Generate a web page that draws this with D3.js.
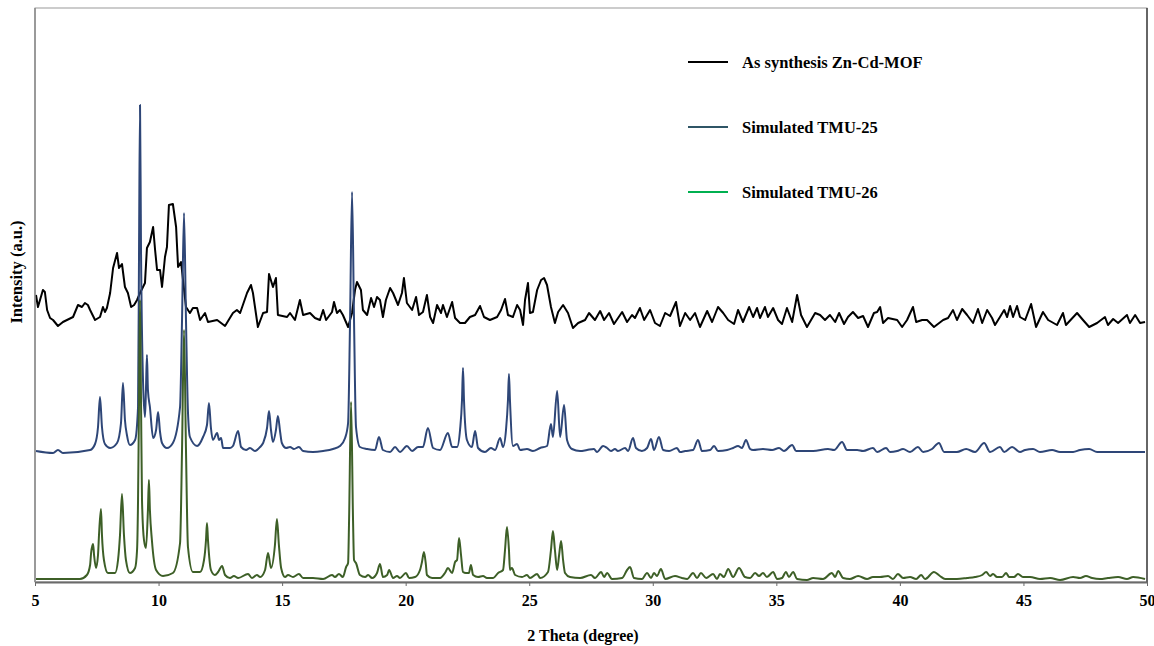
<!DOCTYPE html>
<html><head><meta charset="utf-8">
<script src="https://cdn.jsdelivr.net/npm/d3@7"></script>
<style>body{margin:0;background:#fff}svg{display:block}</style>
</head><body><svg id="c" width="1154" height="646"></svg>
<script>
const xTicks=[5,10,15,20,25,30,35,40,45,50];
const seriesNames=["As synthesis Zn-Cd-MOF","Simulated TMU-25","Simulated TMU-26"];
// [2θ, intensity a.u.]
const asSynthesis=[[5.04,287],[5.12,275],[5.32,292],[5.40,290],[5.49,272],[5.61,264],[5.73,262],[5.93,256],[6.13,260],[6.54,265],[6.74,277],[6.90,275],[7.02,279],[7.14,277],[7.23,272],[7.43,262],[7.63,265],[7.75,275],[7.83,270],[7.91,274],[8.04,289],[8.16,314],[8.32,329],[8.40,314],[8.52,318],[8.64,295],[8.76,289],[8.89,275],[9.01,277],[9.13,282],[9.25,289],[9.45,299],[9.53,334],[9.65,340],[9.78,355],[9.86,332],[9.94,312],[10.06,312],[10.14,295],[10.26,325],[10.34,335],[10.42,377],[10.58,378],[10.71,355],[10.79,315],[10.91,320],[10.99,302],[11.11,275],[11.27,269],[11.39,274],[11.56,274],[11.68,262],[11.88,269],[12.00,260],[12.37,262],[12.69,256],[13.01,269],[13.17,272],[13.30,269],[13.58,289],[13.74,297],[13.82,289],[14.02,255],[14.23,269],[14.39,270],[14.47,308],[14.63,295],[14.75,304],[14.83,267],[15.20,265],[15.32,269],[15.52,262],[15.72,282],[15.85,267],[16.13,269],[16.33,264],[16.53,262],[16.66,272],[16.78,262],[17.02,270],[17.10,280],[17.22,269],[17.34,272],[17.46,267],[17.67,255],[17.83,269],[17.95,292],[18.03,300],[18.19,292],[18.27,272],[18.44,267],[18.60,284],[18.72,275],[18.84,285],[18.96,282],[19.08,265],[19.20,282],[19.37,294],[19.49,289],[19.69,277],[19.85,289],[19.93,304],[20.05,279],[20.26,272],[20.42,285],[20.54,267],[20.70,270],[20.86,287],[20.99,265],[21.11,259],[21.27,277],[21.43,269],[21.51,277],[21.67,265],[21.88,280],[22.00,264],[22.20,259],[22.40,259],[22.60,265],[22.81,267],[23.01,276],[23.17,265],[23.41,262],[23.70,265],[23.86,272],[24.02,283],[24.14,267],[24.34,265],[24.51,277],[24.63,272],[24.75,257],[24.83,282],[24.95,299],[25.03,269],[25.15,270],[25.32,292],[25.48,302],[25.60,304],[25.72,297],[25.88,275],[26.04,259],[26.17,270],[26.37,277],[26.57,269],[26.77,254],[26.98,259],[27.26,262],[27.42,269],[27.66,262],[27.87,271],[28.03,262],[28.23,269],[28.43,258],[28.76,270],[28.96,260],[29.16,267],[29.28,264],[29.48,274],[29.65,262],[29.89,272],[30.09,259],[30.29,256],[30.50,269],[30.70,266],[30.94,280],[31.10,256],[31.31,269],[31.51,262],[31.71,269],[31.91,255],[32.20,271],[32.40,260],[32.64,275],[32.85,269],[33.05,262],[33.29,258],[33.45,272],[33.65,260],[33.90,275],[34.06,265],[34.22,274],[34.34,264],[34.54,275],[34.66,265],[34.87,274],[35.07,262],[35.23,258],[35.43,274],[35.64,260],[35.84,287],[36.00,267],[36.24,255],[36.57,269],[36.77,267],[36.97,262],[37.17,267],[37.38,260],[37.54,269],[37.74,258],[37.90,265],[38.10,270],[38.31,264],[38.51,266],[38.71,255],[38.95,269],[39.08,270],[39.20,275],[39.32,259],[39.52,264],[39.89,262],[40.09,255],[40.29,262],[40.53,275],[40.66,260],[40.90,262],[41.10,262],[41.38,255],[41.75,262],[41.95,264],[42.15,272],[42.31,262],[42.52,273],[42.72,267],[42.96,259],[43.16,273],[43.33,259],[43.53,272],[43.73,264],[43.85,257],[44.05,265],[44.22,272],[44.34,265],[44.46,276],[44.58,265],[44.74,276],[44.86,265],[45.07,262],[45.31,278],[45.51,255],[45.79,270],[46.00,262],[46.36,257],[46.60,269],[46.72,257],[47.17,269],[47.41,262],[47.66,255],[47.98,259],[48.30,265],[48.42,257],[48.63,263],[48.83,259],[49.19,267],[49.31,259],[49.52,267],[49.72,259],[49.92,260]];
const tmu25=[[5.04,131],[5.73,129],[5.93,132],[6.13,129],[7.23,132],[7.43,138],[7.55,155],[7.63,185],[7.71,155],[7.83,138],[8.04,134],[8.32,139],[8.48,159],[8.56,199],[8.64,162],[8.72,147],[8.84,137],[9.05,142],[9.17,175],[9.21,332],[9.25,477],[9.29,332],[9.37,202],[9.45,165],[9.49,192],[9.53,227],[9.57,192],[9.65,175],[9.78,144],[9.90,152],[9.98,170],[10.06,150],[10.14,139],[10.34,134],[10.58,139],[10.87,175],[10.95,262],[11.03,369],[11.11,262],[11.19,170],[11.27,145],[11.56,136],[11.80,145],[11.96,157],[12.04,179],[12.12,154],[12.20,142],[12.37,149],[12.45,142],[12.53,144],[12.61,134],[12.89,134],[13.01,136],[13.22,151],[13.34,135],[13.54,132],[13.70,134],[13.90,131],[14.11,135],[14.23,139],[14.39,154],[14.47,171],[14.55,152],[14.63,140],[14.75,152],[14.83,166],[14.92,150],[14.99,139],[15.16,134],[15.32,135],[15.48,133],[15.68,135],[15.85,131],[16.25,130],[16.66,131],[17.06,133],[17.34,136],[17.55,144],[17.67,159],[17.75,262],[17.83,390],[17.91,262],[17.99,155],[18.15,135],[18.44,133],[18.76,132],[18.92,145],[19.08,132],[19.37,130],[19.57,135],[19.77,130],[20.05,136],[20.26,131],[20.50,135],[20.70,135],[20.90,154],[21.11,134],[21.39,132],[21.71,149],[21.88,135],[22.08,135],[22.20,152],[22.28,182],[22.32,214],[22.36,182],[22.48,142],[22.68,135],[22.81,151],[22.93,134],[23.21,130],[23.45,134],[23.62,132],[23.82,144],[23.94,135],[24.06,152],[24.14,182],[24.18,208],[24.22,182],[24.34,136],[24.51,138],[24.63,132],[24.91,133],[25.15,131],[25.44,134],[25.72,136],[25.88,158],[25.96,145],[26.13,191],[26.25,145],[26.41,177],[26.53,142],[26.73,133],[27.06,131],[27.34,132],[27.62,133],[27.74,130],[27.99,136],[28.15,134],[28.31,131],[28.47,133],[28.59,131],[28.88,134],[29.00,131],[29.20,144],[29.32,134],[29.56,131],[29.77,134],[29.93,143],[30.05,132],[30.25,145],[30.42,132],[30.66,131],[30.98,134],[31.10,130],[31.31,131],[31.63,132],[31.83,142],[31.99,131],[32.32,132],[32.48,136],[32.64,131],[33.01,132],[33.25,134],[33.45,136],[33.61,134],[33.77,142],[33.94,133],[34.06,132],[34.46,133],[34.83,132],[35.11,134],[35.31,131],[35.64,137],[35.80,131],[36.49,131],[37.09,133],[37.34,132],[37.66,140],[37.86,132],[38.27,132],[38.51,131],[38.91,134],[39.08,130],[39.44,134],[39.60,130],[39.89,131],[40.13,133],[40.41,130],[40.73,135],[40.94,130],[41.30,133],[41.58,139],[41.79,130],[42.31,130],[42.68,133],[43.04,130],[43.41,139],[43.65,130],[44.05,135],[44.22,130],[44.54,135],[44.86,130],[45.07,132],[45.39,133],[45.67,130],[46.16,132],[46.48,130],[47.01,130],[47.29,132],[47.66,133],[47.98,130],[48.91,130],[49.60,130],[49.92,130]];
const tmu26=[[5.04,3],[5.89,3],[6.82,3],[7.10,7],[7.23,17],[7.27,29],[7.35,38],[7.39,27],[7.47,14],[7.55,27],[7.59,47],[7.67,73],[7.71,47],[7.79,22],[7.95,9],[8.24,9],[8.36,22],[8.44,47],[8.52,88],[8.60,47],[8.68,22],[8.84,9],[9.05,14],[9.13,32],[9.17,82],[9.21,182],[9.25,282],[9.29,182],[9.33,82],[9.41,42],[9.49,34],[9.57,72],[9.61,102],[9.65,72],[9.73,42],[9.90,12],[10.18,6],[10.58,9],[10.87,39],[10.95,132],[11.03,252],[11.11,132],[11.19,35],[11.39,10],[11.68,10],[11.84,22],[11.92,42],[11.96,59],[12.00,42],[12.12,12],[12.28,7],[12.41,10],[12.57,16],[12.69,7],[12.89,4],[13.05,6],[13.22,4],[13.62,8],[13.78,4],[13.98,7],[14.11,5],[14.31,12],[14.43,29],[14.55,14],[14.71,37],[14.79,63],[14.87,37],[14.96,14],[15.12,5],[15.24,7],[15.44,5],[15.68,8],[15.85,4],[16.25,4],[16.66,3],[17.02,7],[17.14,5],[17.30,8],[17.46,5],[17.59,15],[17.67,19],[17.71,62],[17.79,180],[17.87,62],[17.91,22],[17.99,19],[18.15,7],[18.36,5],[18.48,7],[18.64,4],[18.84,9],[18.96,18],[19.08,5],[19.25,7],[19.33,12],[19.49,4],[19.65,6],[19.77,4],[20.01,9],[20.14,4],[20.38,5],[20.58,12],[20.66,20],[20.74,30],[20.82,17],[20.86,7],[21.07,4],[21.39,4],[21.59,9],[21.71,14],[21.88,9],[22.00,20],[22.08,22],[22.16,44],[22.24,27],[22.32,10],[22.44,9],[22.56,9],[22.64,17],[22.73,7],[22.93,5],[23.13,6],[23.29,4],[23.54,4],[23.74,9],[23.94,12],[24.02,32],[24.10,55],[24.18,32],[24.22,12],[24.30,14],[24.43,7],[24.71,5],[24.91,7],[25.03,4],[25.32,8],[25.44,4],[25.76,10],[25.88,32],[25.96,51],[26.04,32],[26.13,12],[26.21,27],[26.29,41],[26.37,22],[26.45,9],[26.65,5],[27.06,4],[27.50,7],[27.66,4],[27.91,10],[28.03,5],[28.15,9],[28.35,3],[28.76,4],[28.96,12],[29.08,15],[29.24,4],[29.56,3],[29.77,9],[29.93,4],[30.05,9],[30.17,6],[30.33,13],[30.50,3],[30.90,6],[31.18,4],[31.39,3],[31.63,9],[31.79,4],[31.95,9],[32.16,4],[32.44,8],[32.60,3],[32.72,8],[32.88,5],[33.05,13],[33.25,5],[33.49,14],[33.73,5],[33.94,4],[34.14,9],[34.30,6],[34.46,9],[34.62,5],[34.87,10],[35.03,3],[35.23,4],[35.39,10],[35.51,5],[35.68,10],[35.84,3],[36.24,2],[36.49,4],[36.89,3],[37.25,9],[37.38,5],[37.50,11],[37.70,4],[37.98,3],[38.31,6],[38.67,3],[38.91,5],[39.20,5],[39.52,6],[39.72,3],[39.92,8],[40.13,4],[40.41,5],[40.66,3],[40.86,7],[41.02,3],[41.38,10],[41.62,6],[41.83,3],[42.31,3],[42.72,4],[43.04,5],[43.33,7],[43.49,10],[43.65,6],[43.77,8],[43.93,5],[44.13,5],[44.30,9],[44.42,5],[44.62,5],[44.78,8],[44.98,5],[45.27,5],[45.67,3],[46.08,4],[46.48,2],[47.01,5],[47.29,4],[47.53,6],[47.78,4],[48.10,3],[48.42,4],[48.83,5],[49.19,3],[49.44,5],[49.92,3]];
const lineColors=["#000000","#2e4677","#3d5f27"];
const legendColors=["#000000","#2f5566","#00b050"];

const svg=d3.select("#c");
const x=d3.scaleLinear().domain([5,50]).range([35,1147]);
const y=d3.scaleLinear().domain([0,574]).range([582,8]);
const font="'Liberation Serif','Times New Roman',serif";

// plot frame
svg.append("rect").attr("x",x(5)).attr("y",y(574)).attr("width",x(50)-x(5)).attr("height",y(0)-y(574))
  .attr("fill","none").attr("stroke","#9a9a9a").attr("stroke-width",1);
svg.append("line").attr("x1",x(50)).attr("x2",x(50)).attr("y1",y(574)).attr("y2",y(0)).attr("stroke","#222").attr("stroke-width",1.2);

const curves=[d3.curveLinear,d3.curveMonotoneX,d3.curveMonotoneX];
[asSynthesis,tmu25,tmu26].forEach((s,i)=>{
  const line=d3.line().x(d=>x(d[0])).y(d=>y(d[1])).curve(curves[i]);
  svg.append("path").datum(s).attr("d",line).attr("fill","none")
    .attr("stroke",lineColors[i]).attr("stroke-width",2).attr("stroke-linejoin","round");
});

// x axis
const ax=svg.append("g").attr("transform",`translate(0,${y(0)})`)
  .call(d3.axisBottom(x).tickValues(xTicks).tickFormat(d3.format("d")).tickSize(4).tickSizeOuter(0).tickPadding(9));
ax.select(".domain").attr("stroke","#6a6a6a").attr("stroke-width",2);
ax.selectAll(".tick line").attr("stroke","#6a6a6a");
ax.selectAll("text").attr("font-family",font).attr("font-weight","bold").attr("font-size",16).attr("fill","#000");

// left axis line
svg.append("line").attr("x1",x(5)).attr("x2",x(5)).attr("y1",y(574)).attr("y2",y(0)).attr("stroke","#8a8a8a").attr("stroke-width",1.5);

svg.append("text").attr("x",583).attr("y",641).attr("text-anchor","middle")
  .attr("font-family",font).attr("font-weight","bold").attr("font-size",16).text("2 Theta (degree)");
svg.append("text").attr("transform","translate(22,272) rotate(-90)").attr("text-anchor","middle")
  .attr("font-family",font).attr("font-weight","bold").attr("font-size",16.5).text("Intensity (a.u.)");

// legend
const lg=svg.append("g");
seriesNames.forEach((n,i)=>{
  const yy=62+i*65;
  lg.append("line").attr("x1",688).attr("x2",728).attr("y1",yy).attr("y2",yy).attr("stroke",legendColors[i]).attr("stroke-width",2);
  lg.append("text").attr("x",742).attr("y",yy+5.5).attr("font-family",font).attr("font-weight","bold").attr("font-size",16.5).text(n);
});
</script></body></html>
